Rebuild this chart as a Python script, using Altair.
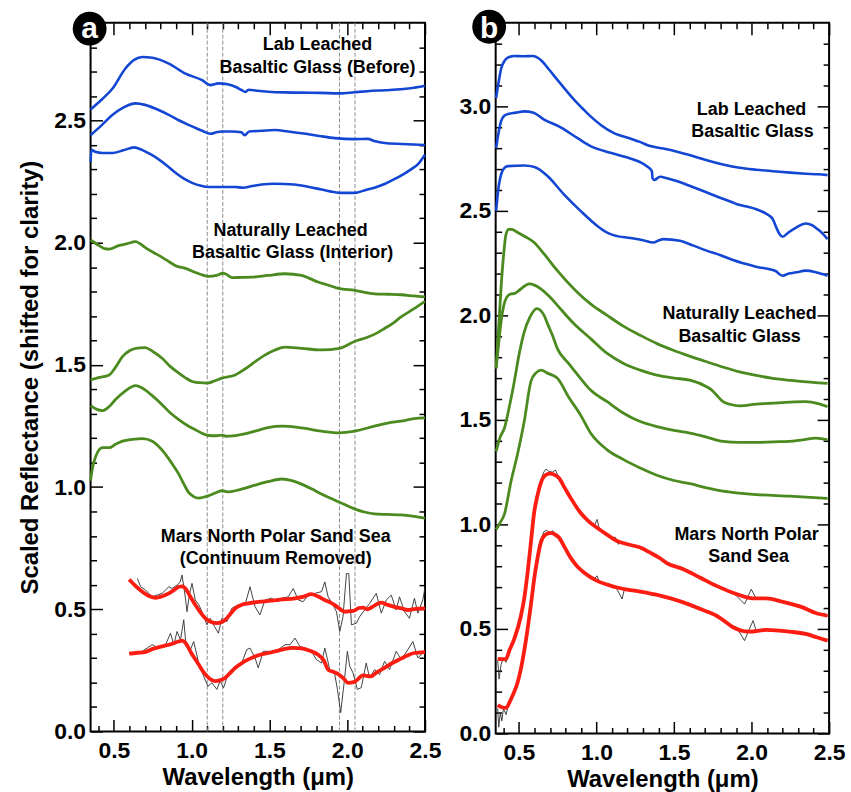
import altair as alt
import pandas as pd

# ---------------------------------------------------------------------------
# Axis ranges and tick positions
# ---------------------------------------------------------------------------
WL_DOMAIN = [0.35, 2.5]
A_REFL_DOMAIN = [0.0, 2.9]
B_REFL_DOMAIN = [0.0, 3.4]

WL_MAJOR = [0.5, 1.0, 1.5, 2.0, 2.5]
WL_MINOR = [0.4, 0.6, 0.7, 0.8, 0.9, 1.1, 1.2, 1.3, 1.4, 1.6, 1.7, 1.8, 1.9,
            2.1, 2.2, 2.3, 2.4]
A_REFL_MAJOR = [0.0, 0.5, 1.0, 1.5, 2.0, 2.5]
A_REFL_MINOR = [0.1, 0.2, 0.3, 0.4, 0.6, 0.7, 0.8, 0.9, 1.1, 1.2, 1.3, 1.4,
                1.6, 1.7, 1.8, 1.9, 2.1, 2.2, 2.3, 2.4, 2.6, 2.7, 2.8]
B_REFL_MAJOR = [0.0, 0.5, 1.0, 1.5, 2.0, 2.5, 3.0]
B_REFL_MINOR = [0.1, 0.2, 0.3, 0.4, 0.6, 0.7, 0.8, 0.9, 1.1, 1.2, 1.3, 1.4,
                1.6, 1.7, 1.8, 1.9, 2.1, 2.2, 2.3, 2.4, 2.6, 2.7, 2.8, 2.9,
                3.1, 3.2, 3.3]

# Band centres marked with dashed guides in panel a (um)
A_BAND_GUIDES = [1.1, 1.2, 1.95, 2.05]

# ---------------------------------------------------------------------------
# Panel a spectra: (wavelength um, scaled reflectance)
# ---------------------------------------------------------------------------
A_LAB_1 = [(0.35, 2.545), (0.42, 2.585), (0.49, 2.63), (0.574, 2.713), (0.63, 2.748),
           (0.683, 2.76), (0.747, 2.757), (0.853, 2.733), (0.96, 2.692), (1.067, 2.665),
           (1.118, 2.645), (1.173, 2.652), (1.23, 2.648), (1.28, 2.638), (1.32, 2.625),
           (1.345, 2.617), (1.365, 2.626), (1.42, 2.622), (1.493, 2.618), (1.6, 2.615),
           (1.706, 2.614), (1.83, 2.613), (1.95, 2.611), (2.05, 2.616), (2.13, 2.62),
           (2.24, 2.624), (2.346, 2.628), (2.43, 2.634), (2.5, 2.642)]
A_LAB_2 = [(0.35, 2.44), (0.42, 2.48), (0.49, 2.523), (0.56, 2.553), (0.64, 2.57),
           (0.70, 2.564), (0.78, 2.545), (0.853, 2.523), (0.92, 2.5), (0.98, 2.482),
           (1.067, 2.458), (1.12, 2.446), (1.16, 2.452), (1.195, 2.455), (1.26, 2.455),
           (1.32, 2.452), (1.34, 2.44), (1.37, 2.455), (1.45, 2.458), (1.536, 2.461),
           (1.62, 2.455), (1.706, 2.448), (1.82, 2.437), (1.92, 2.428), (2.047, 2.424),
           (2.13, 2.425), (2.18, 2.415), (2.24, 2.408), (2.35, 2.404), (2.5, 2.40)]
A_LAB_3 = [(0.35, 2.33), (0.355, 2.38), (0.38, 2.372), (0.427, 2.367), (0.49, 2.367),
           (0.56, 2.378), (0.63, 2.39), (0.68, 2.38), (0.735, 2.362), (0.79, 2.34),
           (0.846, 2.313), (0.896, 2.286), (0.95, 2.262), (1.003, 2.245), (1.06, 2.233),
           (1.11, 2.228), (1.2, 2.228), (1.28, 2.228), (1.33, 2.225), (1.39, 2.232),
           (1.45, 2.238), (1.53, 2.241), (1.60, 2.24), (1.706, 2.234), (1.77, 2.226),
           (1.834, 2.218), (1.89, 2.21), (1.95, 2.204), (2.05, 2.204), (2.11, 2.214),
           (2.175, 2.225), (2.24, 2.24), (2.30, 2.259), (2.36, 2.28), (2.41, 2.30),
           (2.46, 2.325), (2.5, 2.36)]

A_NAT_1 = [(0.35, 2.011), (0.405, 1.988), (0.44, 1.976), (0.47, 1.974), (0.53, 1.988),
           (0.58, 1.995), (0.64, 2.004), (0.67, 1.995), (0.70, 1.981), (0.755, 1.96),
           (0.81, 1.94), (0.86, 1.92), (0.896, 1.906), (0.96, 1.895), (1.02, 1.879),
           (1.06, 1.87), (1.11, 1.862), (1.16, 1.866), (1.2, 1.875), (1.216, 1.873),
           (1.26, 1.857), (1.32, 1.858), (1.386, 1.859), (1.49, 1.866), (1.60, 1.873),
           (1.706, 1.866), (1.76, 1.853), (1.813, 1.839), (1.88, 1.826), (1.95, 1.812),
           (2.05, 1.805), (2.11, 1.797), (2.175, 1.791), (2.26, 1.789), (2.346, 1.787),
           (2.43, 1.782), (2.5, 1.778)]
A_NAT_2 = [(0.35, 1.439), (0.40, 1.448), (0.47, 1.459), (0.51, 1.49), (0.555, 1.534),
           (0.60, 1.558), (0.64, 1.568), (0.70, 1.571), (0.75, 1.555), (0.81, 1.527),
           (0.86, 1.495), (0.917, 1.466), (0.96, 1.447), (1.003, 1.432), (1.05, 1.427),
           (1.099, 1.425), (1.15, 1.435), (1.195, 1.446), (1.28, 1.459), (1.34, 1.482),
           (1.408, 1.513), (1.47, 1.54), (1.536, 1.561), (1.60, 1.573), (1.706, 1.568),
           (1.834, 1.561), (1.95, 1.568), (2.047, 1.596), (2.13, 1.613), (2.19, 1.63),
           (2.24, 1.649), (2.30, 1.673), (2.346, 1.696), (2.43, 1.73), (2.5, 1.76)]
A_NAT_3 = [(0.35, 1.333), (0.39, 1.318), (0.427, 1.313), (0.47, 1.33), (0.51, 1.358),
           (0.57, 1.392), (0.64, 1.415), (0.70, 1.398), (0.75, 1.372), (0.81, 1.337),
           (0.86, 1.305), (0.917, 1.276), (0.97, 1.253), (1.02, 1.236), (1.06, 1.222),
           (1.11, 1.211), (1.16, 1.21), (1.195, 1.213), (1.22, 1.208), (1.28, 1.211),
           (1.34, 1.218), (1.408, 1.229), (1.49, 1.243), (1.58, 1.249), (1.706, 1.242),
           (1.834, 1.229), (1.95, 1.222), (2.047, 1.229), (2.175, 1.249), (2.26, 1.262),
           (2.346, 1.27), (2.43, 1.28), (2.5, 1.283)]
A_NAT_4 = [(0.35, 1.026), (0.36, 1.07), (0.384, 1.127), (0.427, 1.161), (0.47, 1.161),
           (0.51, 1.175), (0.555, 1.188), (0.62, 1.195), (0.683, 1.198), (0.747, 1.188),
           (0.79, 1.165), (0.832, 1.134), (0.875, 1.095), (0.917, 1.053), (0.95, 1.012),
           (0.98, 0.978), (1.01, 0.962), (1.045, 0.955), (1.11, 0.965), (1.16, 0.978),
           (1.195, 0.985), (1.24, 0.98), (1.28, 0.985), (1.34, 0.995), (1.408, 1.008),
           (1.49, 1.022), (1.58, 1.033), (1.65, 1.025), (1.706, 1.012), (1.77, 0.993),
           (1.834, 0.972), (1.89, 0.955), (1.95, 0.938), (2.047, 0.911), (2.11, 0.898),
           (2.175, 0.89), (2.26, 0.888), (2.346, 0.886), (2.43, 0.88), (2.5, 0.873)]

A_MARS_OBS_1 = [(0.651, 0.626), (0.672, 0.592), (0.703, 0.579), (0.746, 0.551), (0.778, 0.558),
                (0.81, 0.565), (0.853, 0.592), (0.874, 0.585), (0.906, 0.599), (0.925, 0.61),
                (0.938, 0.64), (0.96, 0.545), (0.97, 0.49), (0.985, 0.56), (1.002, 0.606),
                (1.023, 0.538), (1.045, 0.52), (1.066, 0.49), (1.098, 0.436), (1.119, 0.463),
                (1.147, 0.429), (1.172, 0.402), (1.194, 0.463), (1.226, 0.449), (1.258, 0.504),
                (1.30, 0.518), (1.343, 0.518), (1.375, 0.592), (1.407, 0.511), (1.439, 0.477),
                (1.471, 0.538), (1.514, 0.545), (1.556, 0.531), (1.578, 0.545), (1.621, 0.551),
                (1.653, 0.585), (1.685, 0.538), (1.717, 0.531), (1.749, 0.558), (1.792, 0.565),
                (1.835, 0.572), (1.856, 0.612), (1.877, 0.551), (1.909, 0.518), (1.931, 0.49),
                (1.952, 0.409), (1.973, 0.47), (1.995, 0.646), (2.01, 0.646), (2.027, 0.436),
                (2.059, 0.443), (2.08, 0.47), (2.112, 0.497), (2.144, 0.524), (2.187, 0.565),
                (2.219, 0.484), (2.251, 0.538), (2.283, 0.558), (2.315, 0.497), (2.336, 0.551),
                (2.368, 0.49), (2.40, 0.463), (2.432, 0.545), (2.454, 0.484), (2.486, 0.538),
                (2.5, 0.59)]
A_MARS_FIT_1 = [(0.598, 0.622), (0.64, 0.595), (0.683, 0.572), (0.73, 0.553), (0.768, 0.547),
                (0.81, 0.553), (0.853, 0.565), (0.89, 0.58), (0.917, 0.592), (0.94, 0.594),
                (0.96, 0.585), (0.99, 0.553), (1.024, 0.517), (1.055, 0.488), (1.088, 0.463),
                (1.125, 0.448), (1.162, 0.443), (1.19, 0.447), (1.216, 0.457), (1.245, 0.478),
                (1.28, 0.504), (1.32, 0.518), (1.365, 0.524), (1.43, 0.53), (1.493, 0.534),
                (1.58, 0.54), (1.664, 0.545), (1.72, 0.552), (1.77, 0.562), (1.81, 0.553),
                (1.855, 0.538), (1.89, 0.528), (1.92, 0.517), (1.95, 0.503), (1.983, 0.49),
                (2.02, 0.492), (2.047, 0.495), (2.075, 0.505), (2.10, 0.507), (2.13, 0.50),
                (2.175, 0.515), (2.218, 0.527), (2.26, 0.518), (2.303, 0.51), (2.35, 0.503),
                (2.39, 0.497), (2.44, 0.502), (2.5, 0.504)]
A_MARS_OBS_2 = [(0.608, 0.321), (0.683, 0.328), (0.746, 0.355), (0.789, 0.341), (0.832, 0.355),
                (0.864, 0.402), (0.885, 0.355), (0.906, 0.409), (0.928, 0.375), (0.949, 0.457),
                (0.964, 0.348), (0.992, 0.335), (1.013, 0.368), (1.045, 0.28), (1.077, 0.226),
                (1.104, 0.185), (1.13, 0.199), (1.162, 0.172), (1.183, 0.206), (1.205, 0.179),
                (1.237, 0.24), (1.279, 0.267), (1.322, 0.28), (1.354, 0.335), (1.375, 0.341),
                (1.407, 0.301), (1.428, 0.26), (1.46, 0.328), (1.514, 0.328), (1.557, 0.335),
                (1.60, 0.355), (1.632, 0.355), (1.664, 0.382), (1.696, 0.348), (1.728, 0.341),
                (1.77, 0.328), (1.802, 0.294), (1.835, 0.28), (1.856, 0.341), (1.888, 0.253),
                (1.92, 0.233), (1.937, 0.172), (1.958, 0.077), (1.98, 0.199), (2.001, 0.328),
                (2.016, 0.267), (2.037, 0.24), (2.065, 0.172), (2.09, 0.179), (2.122, 0.28),
                (2.144, 0.219), (2.176, 0.253), (2.208, 0.233), (2.24, 0.287), (2.272, 0.253),
                (2.315, 0.328), (2.347, 0.294), (2.39, 0.335), (2.422, 0.368), (2.454, 0.301),
                (2.486, 0.321), (2.5, 0.33)]
A_MARS_FIT_2 = [(0.598, 0.318), (0.65, 0.322), (0.70, 0.325), (0.75, 0.338), (0.81, 0.348),
                (0.86, 0.356), (0.917, 0.368), (0.94, 0.372), (0.96, 0.362), (1.0, 0.318),
                (1.045, 0.274), (1.075, 0.244), (1.099, 0.226), (1.125, 0.212), (1.152, 0.206),
                (1.185, 0.21), (1.216, 0.22), (1.245, 0.238), (1.28, 0.26), (1.33, 0.283),
                (1.386, 0.301), (1.44, 0.314), (1.493, 0.321), (1.55, 0.33), (1.60, 0.338),
                (1.65, 0.342), (1.706, 0.34), (1.76, 0.33), (1.813, 0.314), (1.85, 0.29),
                (1.877, 0.253), (1.91, 0.244), (1.94, 0.236), (1.975, 0.218), (2.005, 0.199),
                (2.047, 0.203), (2.075, 0.218), (2.10, 0.229), (2.15, 0.225), (2.19, 0.242),
                (2.24, 0.26), (2.29, 0.28), (2.346, 0.298), (2.39, 0.312), (2.43, 0.321),
                (2.5, 0.325)]

# ---------------------------------------------------------------------------
# Panel b spectra
# ---------------------------------------------------------------------------
B_LAB_1 = [(0.353, 3.04), (0.37, 3.12), (0.385, 3.18), (0.405, 3.215), (0.428, 3.233),
           (0.47, 3.241), (0.53, 3.24), (0.588, 3.241), (0.641, 3.222), (0.69, 3.18),
           (0.748, 3.127), (0.80, 3.08), (0.855, 3.032), (0.91, 2.99), (0.962, 2.952),
           (1.03, 2.91), (1.11, 2.873), (1.218, 2.846), (1.28, 2.83), (1.346, 2.81),
           (1.431, 2.798), (1.52, 2.783), (1.60, 2.767), (1.70, 2.745), (1.816, 2.722),
           (1.923, 2.706), (2.03, 2.697), (2.137, 2.69), (2.25, 2.683), (2.35, 2.678),
           (2.43, 2.675), (2.49, 2.671)]
B_LAB_2 = [(0.353, 2.80), (0.37, 2.88), (0.385, 2.929), (0.405, 2.955), (0.428, 2.963),
           (0.48, 2.97), (0.534, 2.976), (0.59, 2.971), (0.662, 2.937), (0.769, 2.90),
           (0.876, 2.849), (0.962, 2.81), (1.09, 2.778), (1.218, 2.751), (1.28, 2.734),
           (1.325, 2.714), (1.357, 2.69), (1.362, 2.655), (1.372, 2.648), (1.41, 2.663),
           (1.46, 2.655), (1.517, 2.643), (1.60, 2.62), (1.688, 2.595), (1.78, 2.568),
           (1.88, 2.54), (1.902, 2.533), (1.96, 2.522), (2.03, 2.508), (2.09, 2.488),
           (2.137, 2.46), (2.16, 2.42), (2.18, 2.389), (2.20, 2.376), (2.24, 2.398),
           (2.287, 2.42), (2.35, 2.44), (2.39, 2.432), (2.425, 2.413), (2.46, 2.39),
           (2.49, 2.365)]
B_LAB_3 = [(0.353, 2.50), (0.37, 2.62), (0.385, 2.675), (0.405, 2.705), (0.428, 2.714),
           (0.534, 2.717), (0.60, 2.71), (0.684, 2.667), (0.79, 2.579), (0.897, 2.50),
           (1.004, 2.429), (1.06, 2.4), (1.11, 2.384), (1.218, 2.37), (1.30, 2.36),
           (1.367, 2.349), (1.40, 2.358), (1.431, 2.365), (1.539, 2.357), (1.62, 2.335),
           (1.71, 2.31), (1.80, 2.288), (1.88, 2.265), (2.03, 2.233), (2.158, 2.211),
           (2.18, 2.197), (2.20, 2.19), (2.24, 2.2), (2.287, 2.206), (2.35, 2.214),
           (2.42, 2.205), (2.49, 2.19)]

B_NAT_1 = [(0.353, 1.747), (0.37, 1.95), (0.385, 2.135), (0.40, 2.28), (0.417, 2.389),
           (0.435, 2.413), (0.46, 2.41), (0.492, 2.397), (0.545, 2.375), (0.598, 2.349),
           (0.662, 2.294), (0.748, 2.214), (0.876, 2.111), (0.97, 2.05), (1.069, 2.00),
           (1.17, 1.95), (1.282, 1.905), (1.39, 1.865), (1.495, 1.833), (1.60, 1.805),
           (1.71, 1.778), (1.82, 1.752), (1.923, 1.73), (2.03, 1.713), (2.137, 1.699),
           (2.3, 1.686), (2.49, 1.675)]
B_NAT_2 = [(0.353, 1.747), (0.37, 1.87), (0.385, 1.97), (0.40, 2.04), (0.42, 2.085),
           (0.449, 2.103), (0.47, 2.104), (0.51, 2.125), (0.566, 2.151), (0.60, 2.145),
           (0.641, 2.127), (0.70, 2.088), (0.748, 2.048), (0.855, 1.96), (0.962, 1.889),
           (1.069, 1.818), (1.175, 1.77), (1.282, 1.738), (1.389, 1.714), (1.50, 1.70),
           (1.603, 1.69), (1.71, 1.659), (1.74, 1.645), (1.774, 1.619), (1.816, 1.587),
           (1.86, 1.575), (1.923, 1.567), (2.03, 1.575), (2.137, 1.58), (2.25, 1.585),
           (2.35, 1.587), (2.43, 1.578), (2.49, 1.563)]
B_NAT_3 = [(0.353, 1.349), (0.38, 1.42), (0.406, 1.46), (0.44, 1.57), (0.47, 1.683),
           (0.50, 1.81), (0.534, 1.92), (0.57, 1.99), (0.615, 2.032), (0.662, 2.0),
           (0.69, 1.95), (0.716, 1.905), (0.748, 1.841), (0.82, 1.77), (0.897, 1.699),
           (0.962, 1.643), (1.069, 1.587), (1.175, 1.532), (1.282, 1.492), (1.389, 1.468),
           (1.50, 1.45), (1.603, 1.437), (1.71, 1.418), (1.816, 1.397), (1.92, 1.392),
           (2.03, 1.392), (2.14, 1.395), (2.243, 1.397), (2.33, 1.405), (2.415, 1.413),
           (2.49, 1.405)]
B_NAT_4 = [(0.353, 0.976), (0.38, 1.01), (0.406, 1.048), (0.449, 1.206), (0.49, 1.333),
           (0.534, 1.492), (0.577, 1.683), (0.61, 1.725), (0.645, 1.738), (0.68, 1.725),
           (0.716, 1.714), (0.748, 1.699), (0.82, 1.61), (0.897, 1.524), (0.962, 1.437),
           (1.069, 1.357), (1.175, 1.31), (1.282, 1.27), (1.389, 1.235), (1.50, 1.21),
           (1.603, 1.195), (1.71, 1.175), (1.816, 1.159), (1.92, 1.15), (2.03, 1.143),
           (2.243, 1.135), (2.49, 1.124)]

B_MARS_OBS_1 = [(0.363, 0.35), (0.372, 0.26), (0.385, 0.33), (0.40, 0.36), (0.417, 0.34),
                (0.44, 0.40), (0.47, 0.45), (0.513, 0.565), (0.556, 0.775), (0.598, 1.06),
                (0.63, 1.19), (0.66, 1.25), (0.675, 1.265), (0.69, 1.255), (0.715, 1.25),
                (0.735, 1.26), (0.758, 1.225), (0.795, 1.18), (0.833, 1.125), (0.897, 1.05),
                (0.95, 1.015), (0.985, 0.99), (1.004, 1.024), (1.02, 0.975), (1.07, 0.95),
                (1.10, 0.93), (1.12, 0.94), (1.14, 0.905), (1.16, 0.915), (1.20, 0.905),
                (1.25, 0.90), (1.282, 0.885), (1.346, 0.865), (1.41, 0.835), (1.45, 0.815),
                (1.50, 0.805), (1.56, 0.79), (1.65, 0.755), (1.774, 0.71), (1.84, 0.69),
                (1.90, 0.66), (1.955, 0.619), (1.998, 0.69), (2.03, 0.645), (2.094, 0.645),
                (2.15, 0.64), (2.20, 0.628), (2.26, 0.62), (2.329, 0.60), (2.39, 0.578),
                (2.44, 0.568), (2.47, 0.575), (2.49, 0.56)]
B_MARS_FIT_1 = [(0.363, 0.357), (0.39, 0.355), (0.417, 0.357), (0.44, 0.40), (0.47, 0.452),
                (0.513, 0.563), (0.535, 0.65), (0.556, 0.77), (0.578, 0.92), (0.598, 1.056),
                (0.62, 1.14), (0.641, 1.198), (0.67, 1.235), (0.701, 1.243), (0.73, 1.237),
                (0.758, 1.222), (0.795, 1.175), (0.833, 1.127), (0.897, 1.056), (0.95, 1.015),
                (1.004, 0.984), (1.07, 0.95), (1.133, 0.921), (1.2, 0.905), (1.282, 0.889),
                (1.346, 0.865), (1.41, 0.838), (1.453, 0.815), (1.56, 0.786), (1.67, 0.745),
                (1.774, 0.706), (1.902, 0.667), (2.01, 0.646), (2.094, 0.646), (2.20, 0.63),
                (2.329, 0.603), (2.414, 0.576), (2.49, 0.563)]
B_MARS_OBS_2 = [(0.363, 0.12), (0.37, 0.03), (0.38, 0.10), (0.39, 0.06), (0.40, 0.12),
                (0.417, 0.09), (0.43, 0.13), (0.46, 0.18), (0.513, 0.31), (0.556, 0.50),
                (0.598, 0.74), (0.63, 0.90), (0.66, 0.965), (0.68, 0.972), (0.70, 0.958),
                (0.72, 0.97), (0.74, 0.945), (0.758, 0.935), (0.795, 0.885), (0.833, 0.84),
                (0.88, 0.79), (0.919, 0.77), (0.96, 0.745), (0.985, 0.74), (1.004, 0.754),
                (1.02, 0.72), (1.07, 0.71), (1.133, 0.69), (1.165, 0.643), (1.18, 0.69),
                (1.23, 0.683), (1.282, 0.676), (1.33, 0.675), (1.41, 0.658), (1.46, 0.648),
                (1.50, 0.635), (1.56, 0.63), (1.67, 0.595), (1.774, 0.565), (1.85, 0.52),
                (1.90, 0.51), (1.955, 0.444), (1.98, 0.49), (2.01, 0.54), (2.03, 0.49),
                (2.094, 0.495), (2.15, 0.49), (2.243, 0.485), (2.30, 0.485), (2.35, 0.47),
                (2.42, 0.457), (2.46, 0.45), (2.49, 0.442)]
B_MARS_FIT_2 = [(0.363, 0.135), (0.39, 0.125), (0.417, 0.122), (0.44, 0.15), (0.46, 0.183),
                (0.49, 0.24), (0.513, 0.31), (0.535, 0.40), (0.556, 0.50), (0.578, 0.62),
                (0.598, 0.738), (0.62, 0.84), (0.641, 0.913), (0.67, 0.95), (0.705, 0.96),
                (0.73, 0.953), (0.758, 0.937), (0.795, 0.89), (0.833, 0.841), (0.875, 0.80),
                (0.919, 0.77), (1.004, 0.73), (1.07, 0.712), (1.133, 0.698), (1.2, 0.688),
                (1.282, 0.678), (1.41, 0.659), (1.56, 0.627), (1.67, 0.595), (1.774, 0.563),
                (1.83, 0.535), (1.88, 0.508), (1.987, 0.487), (2.094, 0.495), (2.243, 0.487),
                (2.35, 0.476), (2.42, 0.46), (2.49, 0.444)]

# ---------------------------------------------------------------------------
# Annotations: (wavelength, reflectance, text)
# ---------------------------------------------------------------------------
A_NOTES = [(1.809, 2.809, "Lab Leached"), (1.809, 2.715, "Basaltic Glass (Before)"),
           (1.636, 2.049, "Naturally Leached"), (1.649, 1.959, "Basaltic Glass (Interior)"),
           (1.54, 0.797, "Mars North Polar Sand Sea"), (1.54, 0.707, "(Continuum Removed)")]
B_NOTES = [(2.00, 2.981, "Lab Leached"), (2.006, 2.876, "Basaltic Glass"),
           (1.923, 2.005, "Naturally Leached"), (1.923, 1.895, "Basaltic Glass"),
           (1.968, 0.948, "Mars North Polar"), (1.981, 0.843, "Sand Sea")]
A_BADGE = [(0.344, 2.876, "a")]
B_BADGE = [(0.308, 3.381, "b")]

FONT = "Liberation Sans"
BLUE = "#1446d4"
GREEN = "#4b8a1e"
RED = "#fc1d12"
DARK = "#2e2e2e"
GUIDE = "#8c8c8c"


def spectra(curves):
    rows = []
    for name, pts in curves.items():
        for wl, refl in pts:
            rows.append({"curve": name, "wl": wl, "refl": refl})
    return pd.DataFrame(rows)


def points(entries):
    return pd.DataFrame(entries, columns=["wl", "refl", "label"])


def tick_axis(orient, values, size, labels=False, titled=False):
    """Axis whose ticks point into the plot (moved inward by their own length)."""
    props = dict(orient=orient, values=values, tickSize=size, offset=-size,
                 domain=False, grid=False, ticks=True, tickColor="black",
                 tickWidth=1.5, labels=labels)
    horizontal = orient in ("bottom", "top")
    if labels:
        props.update(format=".1f", labelFont=FONT, labelFontSize=23,
                     labelFontWeight="bold", labelColor="black",
                     labelPadding=8 if horizontal else 5,
                     labelFlush=False, labelOverlap=False)
    if titled:
        props.update(titleFont=FONT, titleFontSize=24, titleFontWeight="bold",
                     titleColor="black", titlePadding=3 if horizontal else 11)
    return alt.Axis(**props)


def panel(lab, nat, obs, fit, notes, badge, y_domain, y_major, y_minor,
          width, height, y_title=None, guides=None, badge_dy=9):
    xs = alt.Scale(domain=WL_DOMAIN, nice=False, zero=False)
    ys = alt.Scale(domain=y_domain, nice=False, zero=False)

    def xy(x_axis=None, y_axis=None, x_title=None, yt=None):
        return dict(x=alt.X("wl:Q", scale=xs, axis=x_axis, title=x_title),
                    y=alt.Y("refl:Q", scale=ys, axis=y_axis, title=yt))

    layers = []
    if guides is not None:
        layers.append(
            alt.Chart(pd.DataFrame({"wl": guides}))
            .mark_rule(color=GUIDE, strokeDash=[4, 2], strokeWidth=1)
            .encode(x=alt.X("wl:Q", scale=xs, axis=None))
        )

    layers.append(
        alt.Chart(spectra(lab))
        .mark_line(color=BLUE, strokeWidth=2.6, interpolate="monotone")
        .encode(**xy(tick_axis("bottom", WL_MAJOR, 12, labels=True, titled=True),
                     tick_axis("left", y_major, 12, labels=True, titled=y_title is not None),
                     "Wavelength (\u03bcm)", y_title),
                detail="curve:N")
    )
    layers.append(
        alt.Chart(spectra(nat))
        .mark_line(color=GREEN, strokeWidth=2.8, interpolate="monotone")
        .encode(**xy(tick_axis("bottom", WL_MINOR, 6), tick_axis("left", y_minor, 6)),
                detail="curve:N")
    )
    layers.append(
        alt.Chart(spectra(obs))
        .mark_line(color=DARK, strokeWidth=0.9)
        .encode(**xy(tick_axis("top", WL_MAJOR, 12), tick_axis("right", y_major, 12)),
                detail="curve:N")
    )
    layers.append(
        alt.Chart(spectra(fit))
        .mark_line(color=RED, strokeWidth=3.8, interpolate="monotone")
        .encode(**xy(tick_axis("top", WL_MINOR, 6), tick_axis("right", y_minor, 6)),
                detail="curve:N")
    )
    layers.append(
        alt.Chart(points(notes))
        .mark_text(font=FONT, fontSize=18, fontWeight="bold", color="black",
                   align="center", baseline="middle")
        .encode(text="label:N", **xy())
    )
    layers.append(
        alt.Chart(points(badge))
        .mark_point(shape="circle", filled=True, size=1156, color="black",
                    opacity=1, clip=False)
        .encode(**xy())
    )
    layers.append(
        alt.Chart(points(badge))
        .mark_text(font=FONT, fontSize=30, fontWeight="bold", color="white",
                   align="center", baseline="alphabetic", dy=badge_dy, clip=False)
        .encode(text="label:N", **xy())
    )

    return (
        alt.layer(*layers)
        .resolve_scale(x="shared", y="shared")
        .resolve_axis(x="independent", y="independent")
        .properties(width=width, height=height)
    )


panel_a = panel(
    {"lab1": A_LAB_1, "lab2": A_LAB_2, "lab3": A_LAB_3},
    {"nat1": A_NAT_1, "nat2": A_NAT_2, "nat3": A_NAT_3, "nat4": A_NAT_4},
    {"obs1": A_MARS_OBS_1, "obs2": A_MARS_OBS_2},
    {"fit1": A_MARS_FIT_1, "fit2": A_MARS_FIT_2},
    A_NOTES, A_BADGE, A_REFL_DOMAIN, A_REFL_MAJOR, A_REFL_MINOR,
    width=336, height=712, y_title="Scaled Reflectance (shifted for clarity)",
    guides=A_BAND_GUIDES, badge_dy=9,
)

panel_b = panel(
    {"lab1": B_LAB_1, "lab2": B_LAB_2, "lab3": B_LAB_3},
    {"nat1": B_NAT_1, "nat2": B_NAT_2, "nat3": B_NAT_3, "nat4": B_NAT_4},
    {"obs1": B_MARS_OBS_1, "obs2": B_MARS_OBS_2},
    {"fit1": B_MARS_FIT_1, "fit2": B_MARS_FIT_2},
    B_NOTES, B_BADGE, B_REFL_DOMAIN, B_REFL_MAJOR, B_REFL_MINOR,
    width=335, height=714, badge_dy=11,
)

chart = (
    alt.hconcat(panel_a, panel_b, spacing=16)
    .properties(padding={"left": 18, "top": 6, "right": 5, "bottom": 5})
    .configure_view(stroke="black", strokeWidth=2)
)

chart.save("out.html", embed_options={"renderer": "svg", "actions": False})
